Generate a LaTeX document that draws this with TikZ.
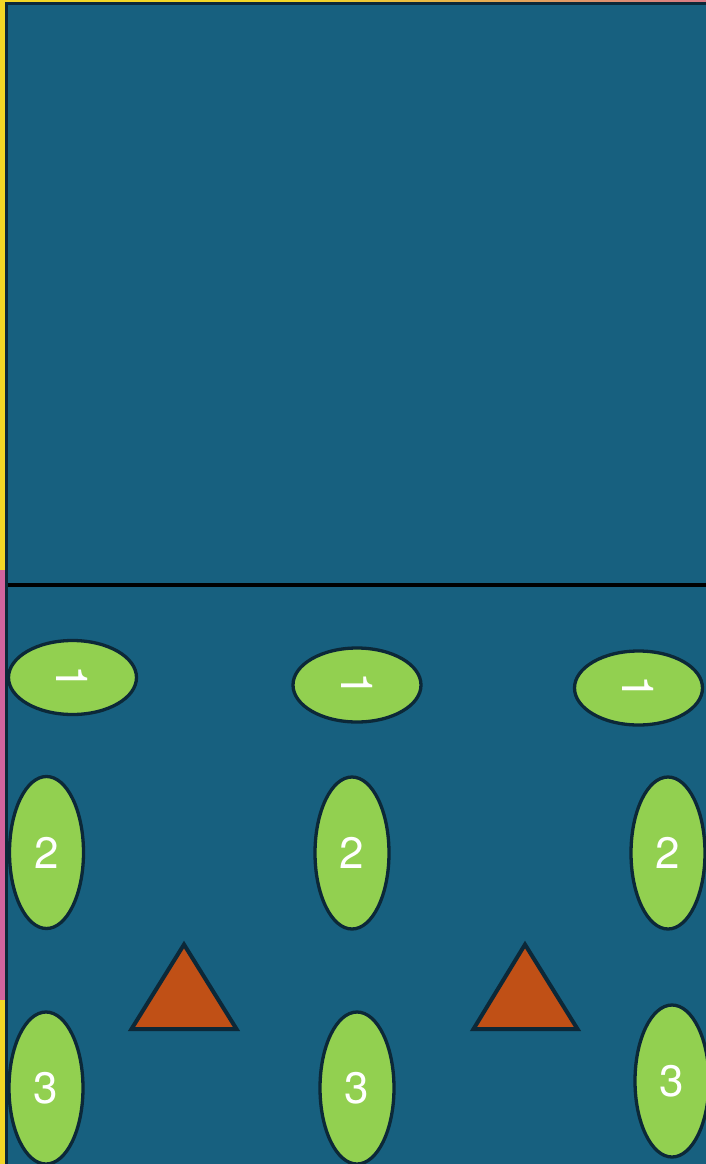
\documentclass[tikz,border=0pt]{standalone}
\usepackage{fontspec}
\setmainfont{TeX Gyre Heros}
\usetikzlibrary{shapes.geometric}
\definecolor{bg}{HTML}{17607F}
\definecolor{lime}{HTML}{92D050}
\definecolor{rust}{HTML}{C05016}
\definecolor{ink}{HTML}{0C2838}
\definecolor{stripY}{HTML}{F2D626}
\definecolor{stripP}{HTML}{D2649E}
\tikzset{
  oval/.style={ellipse, draw=ink, line width=3.3pt, fill=lime, inner sep=0pt,
    text=white, font=\fontsize{44}{44}\selectfont},
  hoval/.style={oval, minimum width=128pt, minimum height=74pt},
  voval/.style={oval, minimum width=74pt, minimum height=152pt},
  tri/.style={draw=ink, line width=4pt, fill=rust, line join=miter},
}
\begin{document}
\begin{tikzpicture}[x=1pt,y=-1pt]
\useasboundingbox (0,0) rectangle (706,1164);
\begin{scope}
\clip (0,0) rectangle (706,1164);
% outer textured strips
\fill[stripY] (0,0) rectangle (706,4);
\fill[left color=stripY, right color=stripP!80!stripY] (300,0) rectangle (706,3);
\fill[stripY] (0,0) rectangle (6,570);
\fill[stripP] (0,570) rectangle (6,1000);
\fill[stripY] (0,1000) rectangle (6,1164);
% main panel
\draw[ink, line width=3pt, fill=bg] (6,3.5) rectangle (712,1170);
% divider
\coordinate (dl) at (7.5,584.5);
\coordinate (dr) at (706,584.5);
\draw[black, line width=4pt] (dl) -- (dr);
% row 1
\node[hoval] (a1) at (72.5,677.5) {\rotatebox{-90}{1}};
\node[hoval] (b1) at (357,685) {\rotatebox{-90}{1}};
\node[hoval] (c1) at (638.5,688) {\rotatebox{-90}{1}};
% row 2
\node[voval] (a2) at (46.5,852.5) {2};
\node[voval] (b2) at (352,853) {2};
\node[voval] (c2) at (668,853) {2};
% row 3
\node[voval] (a3) at (46,1088) {3};
\node[voval] (b3) at (357,1088) {3};
\node[voval] (c3) at (672,1081) {3};
% triangles
\draw[tri] (184,944.5) -- (236.5,1029) -- (131.5,1029) -- cycle;
\draw[tri] (525,944.5) -- (577.5,1029) -- (473.5,1029) -- cycle;
\end{scope}
\end{tikzpicture}
\end{document}
